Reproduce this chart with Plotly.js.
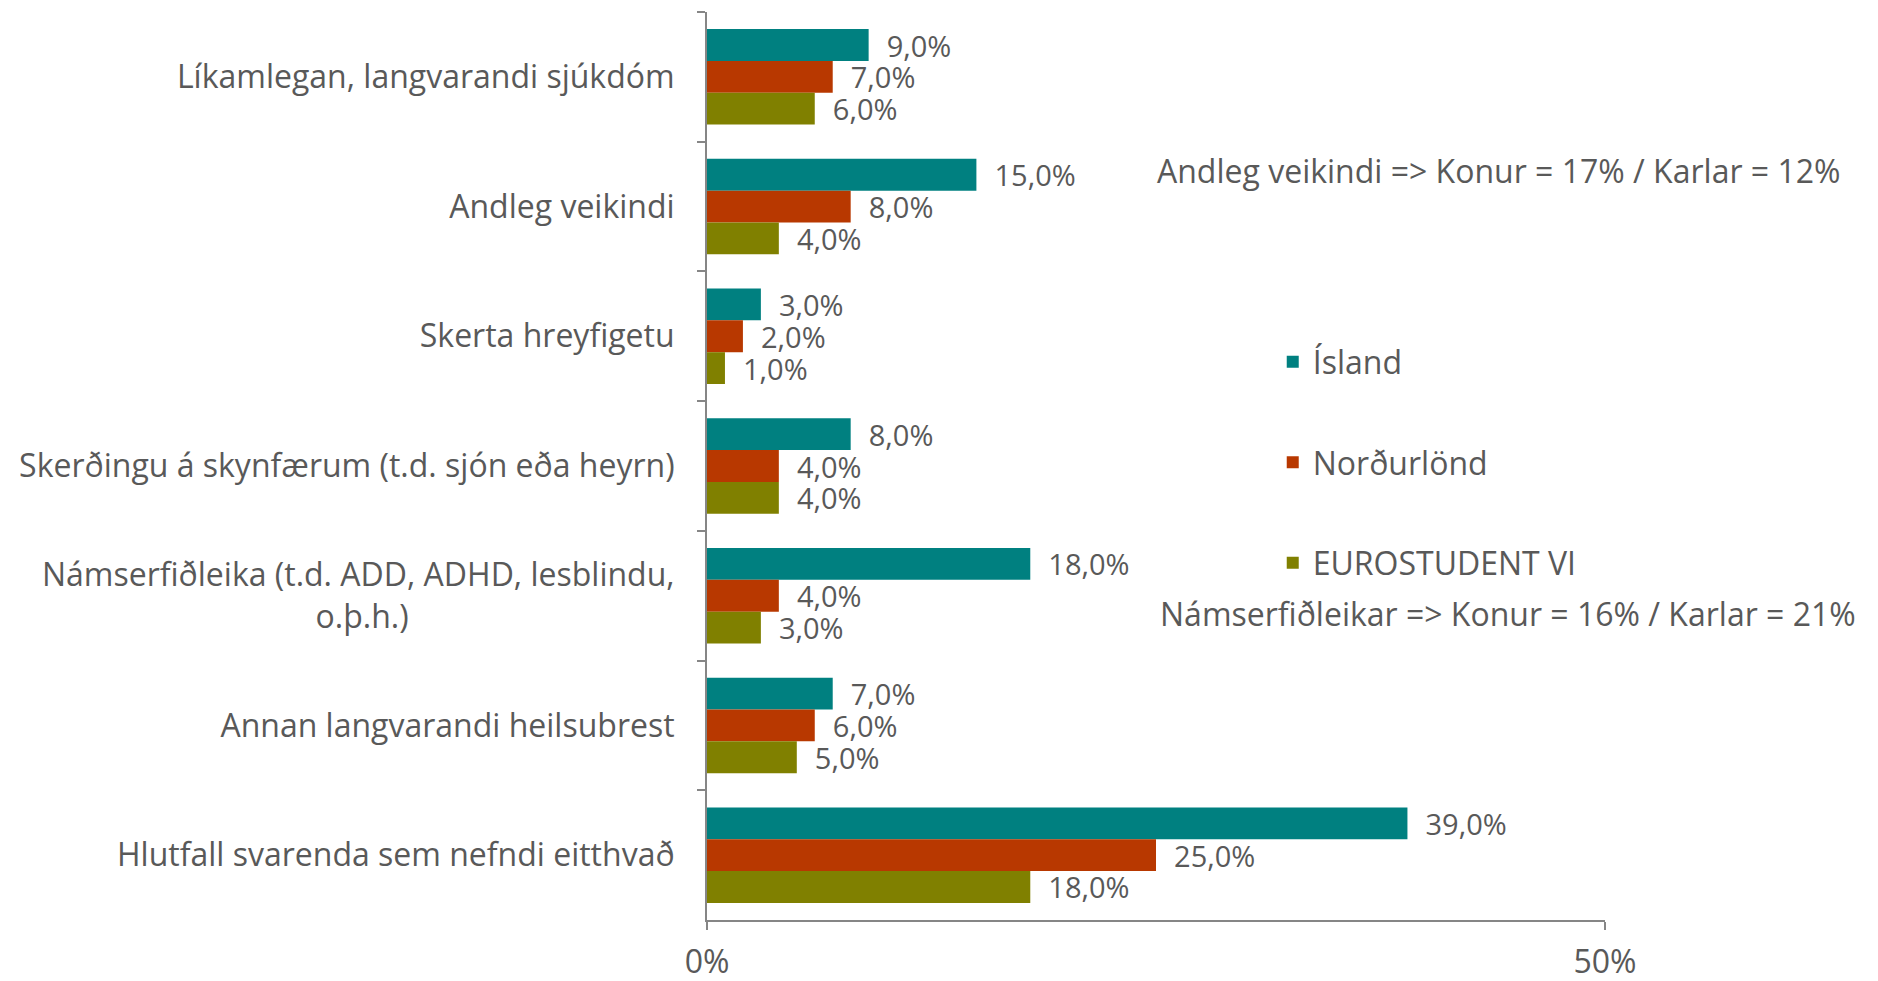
<!DOCTYPE html>
<html>
<head>
<meta charset="utf-8">
<script src="https://cdn.plot.ly/plotly-3.0.1.min.js"></script>
<style>html,body{margin:0;padding:0;background:#fff;}</style>
</head>
<body>
<div id="chart" style="width:1878px;height:981px;"></div>
<script>
var NB = '\u00a0';
var categories = [
  'Líkamlegan, langvarandi sjúkdóm',
  'Andleg veikindi',
  'Skerta hreyfigetu',
  'Skerðingu á skynfærum (t.d. sjón eða heyrn)',
  'Námserfiðleika (t.d. ADD, ADHD, lesblindu,<br>o.þ.h.)' + NB.repeat(32),
  'Annan langvarandi heilsubrest',
  'Hlutfall svarenda sem nefndi eitthvað'
];
var seriesNames = ['Ísland', 'Norðurlönd', 'EUROSTUDENT VI'];
var islandValues = [9, 15, 3, 8, 18, 7, 39];
var nordicValues = [7, 8, 2, 4, 4, 6, 25];
var eurostudentValues = [6, 4, 1, 4, 3, 5, 18];
var xTickValues = [0, 50];
var xTickLabels = ['0%', '50%'];
var notes = [
  'Andleg veikindi => Konur = 17% / Karlar = 12%',
  'Námserfiðleikar => Konur = 16% / Karlar = 21%'
];

var colors = ['#008080', '#B83800', '#808000'];
var allValues = [islandValues, nordicValues, eurostudentValues];
var FONT = '"Open Sans", Lato, sans-serif';
var GREY = '#595959';
var FS = 32;

var traces = allValues.map(function (vals, i) {
  return {
    type: 'bar',
    orientation: 'h',
    name: seriesNames[i],
    legendgroup: 'g' + i,
    x: vals,
    y: categories,
    marker: {color: colors[i]},
    texttemplate: NB + NB + '%{x:.1f}%',
    textposition: 'outside',
    constraintext: 'none',
    cliponaxis: false,
    textfont: {family: FONT, size: 29, color: GREY},
    hoverinfo: 'x+name'
  };
});

var layout = {
  width: 1878,
  height: 981,
  margin: {l: 707, r: 273, t: 12, b: 61},
  paper_bgcolor: '#ffffff',
  plot_bgcolor: '#ffffff',
  font: {family: FONT, size: FS, color: GREY},
  separators: ',.',
  barmode: 'group',
  bargap: 0.264,
  bargroupgap: 0,
  showlegend: true,
  legend: {
    x: 0.63, xanchor: 'left',
    y: 0.645, yanchor: 'top',
    traceorder: 'grouped',
    tracegroupgap: 56,
    font: {family: FONT, size: FS, color: GREY},
    bgcolor: 'rgba(0,0,0,0)'
  },
  xaxis: {
    range: [0, 50],
    tickvals: xTickValues,
    ticktext: xTickLabels,
    showgrid: false,
    zeroline: false,
    showline: true,
    linecolor: '#868686',
    linewidth: 2,
    ticks: 'outside',
    ticklen: 8,
    tickwidth: 2,
    tickcolor: '#868686',
    ticklabelstandoff: 5,
    tickfont: {family: FONT, size: FS, color: GREY},
    fixedrange: true
  },
  yaxis: {
    type: 'category',
    autorange: 'reversed',
    showgrid: false,
    zeroline: false,
    showline: true,
    linecolor: '#868686',
    linewidth: 2,
    ticks: 'outside',
    tickson: 'boundaries',
    ticklen: 8,
    tickwidth: 2,
    tickcolor: '#868686',
    ticklabelstandoff: 24,
    tickfont: {family: FONT, size: FS, color: GREY},
    fixedrange: true
  },
  annotations: [
    {text: notes[0], xref: 'paper', yref: 'paper', x: 0.499, y: 0.825,
     xanchor: 'left', yanchor: 'middle', showarrow: false,
     font: {family: FONT, size: FS, color: GREY}},
    {text: notes[1], xref: 'paper', yref: 'paper', x: 0.502, y: 0.338,
     xanchor: 'left', yanchor: 'middle', showarrow: false,
     font: {family: FONT, size: FS, color: GREY}}
  ]
};

Plotly.newPlot('chart', traces, layout, {displayModeBar: false, responsive: false});
</script>
</body>
</html>
